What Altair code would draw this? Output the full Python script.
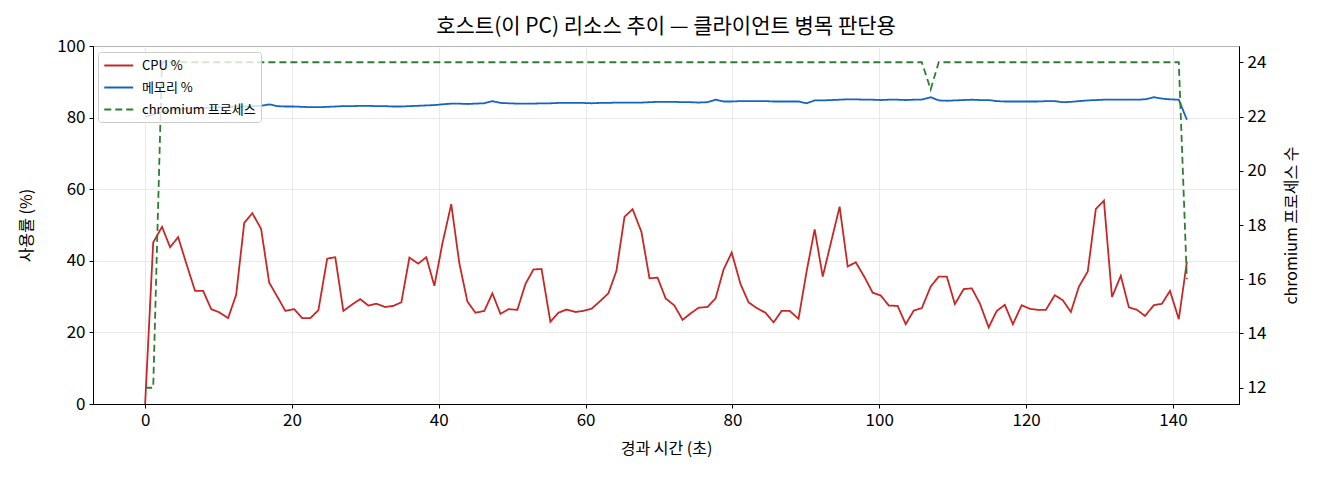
import pandas as pd
import altair as alt

FONT = "Noto Sans CJK KR"

SERIES = ["CPU %", "메모리 %", "chromium 프로세스"]
COLORS = ["#c62828", "#1565c0", "#2e7d32"]
DASHES = [[1, 0], [1, 0], [7, 4]]

# elapsed seconds of each sample
elapsed = [
    0.0, 1.1, 2.3, 3.4, 4.5, 5.6, 6.8, 7.9, 9.0, 10.1,
    11.3, 12.4, 13.5, 14.6, 15.8, 16.9, 18.0, 19.1, 20.3, 21.4,
    22.5, 23.6, 24.8, 25.9, 27.0, 28.2, 29.3, 30.4, 31.5, 32.7,
    33.8, 34.9, 36.0, 37.2, 38.3, 39.4, 40.5, 41.7, 42.8, 43.9,
    45.0, 46.2, 47.3, 48.4, 49.5, 50.7, 51.8, 52.9, 54.0, 55.2,
    56.3, 57.4, 58.6, 59.7, 60.8, 61.9, 63.1, 64.2, 65.3, 66.4,
    67.6, 68.7, 69.8, 70.9, 72.1, 73.2, 74.3, 75.4, 76.6, 77.7,
    78.8, 79.9, 81.1, 82.2, 83.3, 84.5, 85.6, 86.7, 87.8, 89.0,
    90.1, 91.2, 92.3, 93.5, 94.6, 95.7, 96.8, 98.0, 99.1, 100.2,
    101.3, 102.5, 103.6, 104.7, 105.8, 107.0, 108.1, 109.2, 110.3, 111.5,
    112.6, 113.7, 114.9, 116.0, 117.1, 118.2, 119.4, 120.5, 121.6, 122.7,
    123.9, 125.0, 126.1, 127.2, 128.4, 129.5, 130.6, 131.7, 132.9, 134.0,
    135.1, 136.2, 137.4, 138.5, 139.6, 140.8, 141.9,
]

cpu = [
    0.0, 45.1, 49.5, 43.8, 46.6, 39.3, 31.6, 31.6, 26.5, 25.6,
    24.0, 30.5, 50.6, 53.3, 48.9, 33.9, 30.0, 26.0, 26.5, 24.0,
    24.0, 26.2, 40.6, 41.0, 26.0, 27.8, 29.3, 27.5, 28.0, 27.1,
    27.4, 28.4, 40.9, 39.2, 41.0, 33.0, 44.9, 55.8, 39.3, 28.6,
    25.5, 26.0, 30.9, 25.2, 26.5, 26.3, 33.5, 37.6, 37.7, 23.0,
    25.5, 26.4, 25.7, 26.0, 26.6, 28.6, 30.9, 37.2, 52.3, 54.4,
    48.1, 35.1, 35.3, 29.5, 27.5, 23.5, 25.3, 26.9, 27.1, 29.5,
    37.6, 42.3, 33.5, 28.4, 26.8, 25.5, 22.8, 26.0, 26.0, 23.8,
    37.0, 48.8, 35.6, 45.8, 55.1, 38.4, 39.6, 35.4, 31.1, 30.3,
    27.5, 27.4, 22.3, 26.1, 26.8, 32.8, 35.6, 35.6, 27.9, 32.1,
    32.3, 28.1, 21.4, 26.0, 27.7, 22.3, 27.6, 26.6, 26.3, 26.3,
    30.4, 29.0, 25.7, 32.8, 37.0, 54.5, 56.8, 29.9, 35.8, 27.0,
    26.3, 24.6, 27.6, 28.0, 31.6, 23.7, 39.7,
]

memory = [
    80.2, 80.9, 81.6, 82.0, 82.3, 82.5, 82.6, 82.7, 82.8, 82.9,
    83.0, 83.0, 83.1, 83.2, 83.3, 83.7, 83.2, 83.1, 83.1, 83.0,
    82.9, 82.9, 83.0, 83.1, 83.2, 83.2, 83.3, 83.3, 83.2, 83.2,
    83.1, 83.1, 83.2, 83.3, 83.4, 83.5, 83.7, 83.9, 83.9, 83.8,
    83.9, 84.0, 84.6, 84.1, 84.0, 83.9, 83.9, 83.9, 84.0, 84.0,
    84.1, 84.1, 84.1, 84.1, 84.0, 84.1, 84.1, 84.2, 84.2, 84.2,
    84.2, 84.3, 84.4, 84.4, 84.4, 84.3, 84.3, 84.2, 84.3, 85.0,
    84.5, 84.5, 84.6, 84.6, 84.6, 84.6, 84.5, 84.5, 84.5, 84.5,
    84.0, 84.8, 84.8, 84.9, 85.0, 85.1, 85.1, 85.0, 85.0, 84.9,
    85.0, 85.0, 84.9, 85.0, 85.0, 85.7, 84.8, 84.7, 84.8, 84.9,
    85.0, 84.9, 84.9, 84.6, 84.5, 84.5, 84.5, 84.5, 84.5, 84.6,
    84.6, 84.3, 84.4, 84.6, 84.8, 84.9, 85.0, 85.0, 85.0, 85.0,
    85.0, 85.1, 85.7, 85.3, 85.1, 85.0, 79.4,
]

chromium = [
    12, 12, 24, 24, 24, 24, 24, 24, 24, 24,
    24, 24, 24, 24, 24, 24, 24, 24, 24, 24,
    24, 24, 24, 24, 24, 24, 24, 24, 24, 24,
    24, 24, 24, 24, 24, 24, 24, 24, 24, 24,
    24, 24, 24, 24, 24, 24, 24, 24, 24, 24,
    24, 24, 24, 24, 24, 24, 24, 24, 24, 24,
    24, 24, 24, 24, 24, 24, 24, 24, 24, 24,
    24, 24, 24, 24, 24, 24, 24, 24, 24, 24,
    24, 24, 24, 24, 24, 24, 24, 24, 24, 24,
    24, 24, 24, 24, 24, 23, 24, 24, 24, 24,
    24, 24, 24, 24, 24, 24, 24, 24, 24, 24,
    24, 24, 24, 24, 24, 24, 24, 24, 24, 24,
    24, 24, 24, 24, 24, 24, 16,
]

n = len(elapsed)
left_df = pd.DataFrame({
    "t": elapsed + elapsed,
    "v": cpu + memory,
    "series": [SERIES[0]] * n + [SERIES[1]] * n,
})
right_df = pd.DataFrame({"t": elapsed, "v": chromium, "series": SERIES[2]})

# short horizontal stroke, drawn wider than its nominal symbol size
legend = alt.Legend(
    title=None, orient="none", legendX=5, legendY=6,
    symbolType="M-1,0H3", symbolSize=210, symbolStrokeWidth=1.8,
    labelFont=FONT, labelFontSize=13, labelColor="black",
    fillColor="rgba(255,255,255,0.8)", strokeColor="#cccccc",
    cornerRadius=3, padding=5, rowPadding=6, labelOffset=22,
)
color = alt.Color("series:N", scale=alt.Scale(domain=SERIES, range=COLORS), legend=legend)
dash = alt.StrokeDash("series:N", scale=alt.Scale(domain=SERIES, range=DASHES), legend=legend)

x = alt.X("t:Q", scale=alt.Scale(domain=[-7.1, 149.0], nice=False, zero=False),
          axis=alt.Axis(title="경과 시간 (초)", values=list(range(0, 141, 20)),
                        grid=True, titlePadding=12))

left = alt.Chart(left_df).mark_line(strokeWidth=1.8).encode(
    x=x,
    y=alt.Y("v:Q", scale=alt.Scale(domain=[0, 100], nice=False),
            axis=alt.Axis(title="사용률 (%)", values=[0, 20, 40, 60, 80, 100],
                          grid=True, titlePadding=22)),
    color=color,
    strokeDash=dash,
    detail="series:N",
)

right = alt.Chart(right_df).mark_line(strokeWidth=1.8).encode(
    x=x,
    y=alt.Y("v:Q", scale=alt.Scale(domain=[11.4, 24.6], nice=False, zero=False),
            axis=alt.Axis(title="chromium 프로세스 수", orient="right",
                          values=[12, 14, 16, 18, 20, 22, 24], grid=False,
                          titleAngle=270, titlePadding=34)),
    color=color,
    strokeDash=dash,
)

chart = alt.layer(left, right).resolve_scale(y="independent").properties(
    width=1146,
    height=358,
    background="white",
    autosize=alt.AutoSizeParams(type="none"),
    padding={"left": 85, "top": 38, "right": 70, "bottom": 60},
    title=alt.TitleParams("호스트(이 PC) 리소스 추이 — 클라이언트 병목 판단용",
                          font=FONT, fontSize=21, fontWeight="normal",
                          color="black", anchor="middle", offset=0),
).configure_view(
    stroke="black", strokeWidth=1
).configure_axis(
    labelFont=FONT, labelFontSize=17, labelColor="black",
    titleFont=FONT, titleFontSize=16, titleFontWeight="normal", titleColor="black",
    domainColor="black", tickColor="black", tickSize=4, labelPadding=4,
    gridColor="#e3e3e3", gridWidth=0.8,
)

chart.save("out.html", embed_options={"renderer": "svg", "actions": False})
